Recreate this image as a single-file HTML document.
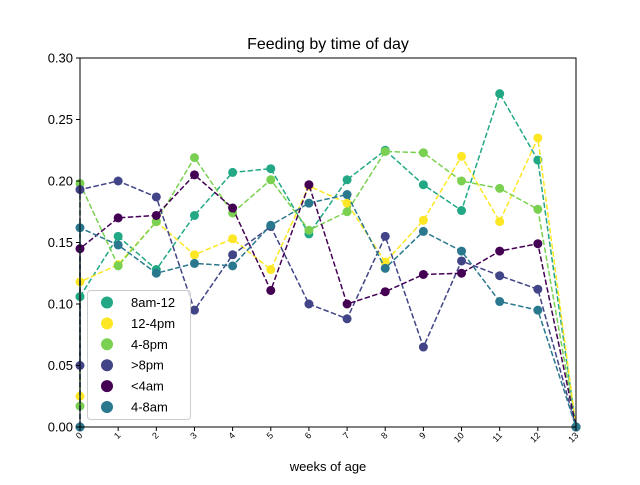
<!DOCTYPE html>
<html><head><meta charset="utf-8"><style>
body{margin:0;background:#fff;}
svg text{font-family:"Liberation Sans","DejaVu Sans",sans-serif;}
</style></head><body>
<svg id="chart" width="640" height="480" xmlns="http://www.w3.org/2000/svg">
<rect width="640" height="480" fill="#fff"/>
<text x="328" y="49" font-size="16" text-anchor="middle">Feeding by time of day</text>
<g id="plot"></g>
<text x="328" y="471" font-size="13" text-anchor="middle">weeks of age</text>
</svg>
<script>
const weeks = [0,0,1,2,3,4,5,6,7,8,9,10,11,12,13];
const seriesNames = ["8am-12","12-4pm","4-8pm",">8pm","<4am","4-8am"];
const s8am12 = [0.106,0.106,0.155,0.128,0.172,0.207,0.210,0.157,0.201,0.225,0.197,0.176,0.271,0.217,0.0];
const s12to4 = [0.025,0.118,0.132,0.167,0.140,0.153,0.128,0.196,0.182,0.134,0.168,0.220,0.167,0.235,0.0];
const s4to8pm = [0.017,0.198,0.131,0.167,0.219,0.174,0.201,0.160,0.175,0.224,0.223,0.200,0.194,0.177,0.0];
const sAfter8 = [0.050,0.193,0.200,0.187,0.095,0.140,0.163,0.100,0.088,0.155,0.065,0.135,0.123,0.112,0.0];
const sBefore4 = [0.0,0.145,0.170,0.172,0.205,0.178,0.111,0.197,0.100,0.110,0.124,0.125,0.143,0.149,0.0];
const s4to8am = [0.0,0.162,0.148,0.125,0.133,0.131,0.164,0.182,0.189,0.129,0.159,0.143,0.102,0.095,0.0];
const colors = ["#22a884","#fde725","#7ad151","#414487","#440154","#2a788e"];
const yTicks = [0,0.05,0.10,0.15,0.20,0.25,0.30];
const yTickLabels = ["0.00","0.05","0.10","0.15","0.20","0.25","0.30"];
const xTicks = [0,1,2,3,4,5,6,7,8,9,10,11,12,13];

const NS="http://www.w3.org/2000/svg";
const L=80,R=576,T=58,B=427;
const xs=v=>L+(v-0)/(13-0)*(R-L);
const ys=v=>B-(v/0.30)*(B-T);
const g=document.getElementById('plot');
function mk(tag,attrs,parent){const e=document.createElementNS(NS,tag);for(const k in attrs)e.setAttribute(k,attrs[k]);(parent||g).appendChild(e);return e;}

const allSeries=[s8am12,s12to4,s4to8pm,sAfter8,sBefore4,s4to8am];
allSeries.forEach((vals,si)=>{
  const sg=mk('g',{});
  
  
  const pts=vals.map((v,i)=>xs(weeks[i])+','+ys(v)).join(' ');
  const pl=mk('polyline',{points:pts,fill:'none',stroke:colors[si],'stroke-width':1.5,'stroke-dasharray':'5.5,2.4'},sg);
  
  
  vals.forEach((v,i)=>{
    const c=mk('circle',{cx:xs(weeks[i]),cy:ys(v),r:4.5,fill:colors[si]},sg);
    
    
  });
});
// axes frame
const fr=mk('rect',{x:L,y:T,width:R-L,height:B-T,fill:'none',stroke:'#000','stroke-width':1});


yTicks.forEach((v,i)=>{
  mk('line',{x1:L-4,x2:L,y1:ys(v),y2:ys(v),stroke:'#000'});
  const t=mk('text',{x:L-7,y:ys(v)+4.5,'font-size':13,'text-anchor':'end'});
  t.textContent=yTickLabels[i];
  
  
});
xTicks.forEach(v=>{
  mk('line',{x1:xs(v),x2:xs(v),y1:B,y2:B+4,stroke:'#000'});
  const t=mk('text',{x:0,y:0,'font-size':9,'text-anchor':'end',transform:`translate(${xs(v)+3},${B+9}) rotate(-45)`});
  t.textContent=v;
  
  
});
// legend
const lg=mk('g',{});


mk('rect',{x:87.5,y:290.5,width:103,height:129,rx:3,fill:'#fff','fill-opacity':0.8,stroke:'#ccc'},lg);
seriesNames.forEach((n,i)=>{
  const y=302.5+i*20.9;
  const e=mk('g',{},lg);
  
  
  mk('circle',{cx:107,cy:y,r:6,fill:colors[i]},e);
  const t=mk('text',{x:131,y:y+4.5,'font-size':13},e);
  t.textContent=n;
});
</script>
</body></html>
